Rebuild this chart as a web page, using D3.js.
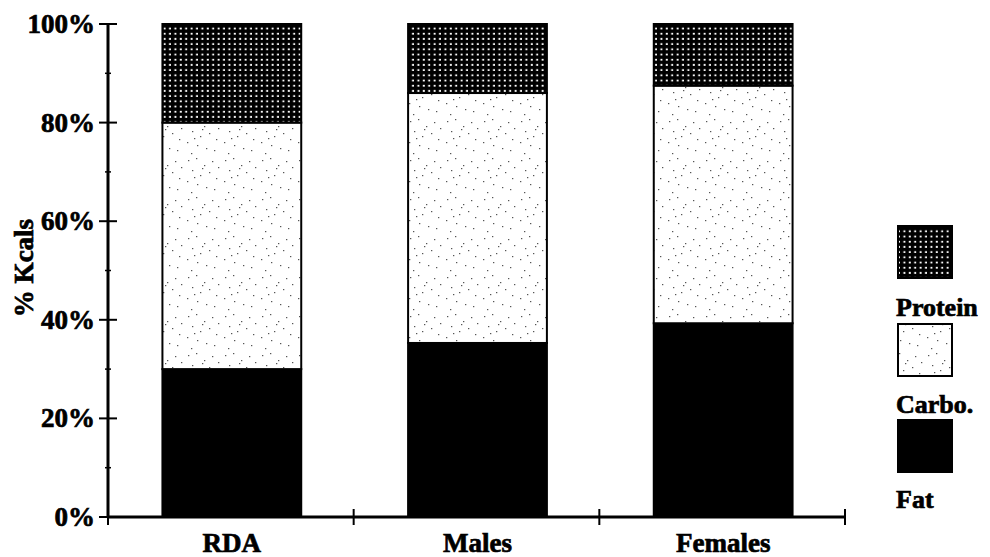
<!DOCTYPE html>
<html>
<head>
<meta charset="utf-8">
<script src="https://cdn.jsdelivr.net/npm/d3@7"></script>
<style>
  body { margin: 0; background: #fff; }
  text { stroke: #000; stroke-width: 0.7px; }
</style>
</head>
<body>
<svg></svg>
<script>
const width = 990;
const height = 557;
const font = "'Liberation Serif', 'DejaVu Serif', Times, serif";

// données (% des kcal)
const groups = ["RDA", "Males", "Females"];
const fat = [30, 35.3, 39.3];
const carbo = [50, 50.7, 48.2];
const protein = [20, 14, 12.5];
const seriesNames = ["Fat", "Carbo.", "Protein"];
const yTicks = [0, 20, 40, 60, 80, 100];

const svg = d3.select("svg")
  .attr("width", width)
  .attr("height", height)
  .attr("font-family", font)
  .attr("font-weight", "bold");

// motifs de remplissage
const defs = svg.append("defs");

const pDots = defs.append("pattern")
  .attr("id", "dots")
  .attr("patternUnits", "userSpaceOnUse")
  .attr("width", 5.4).attr("height", 5.2);
pDots.append("rect").attr("width", 5.4).attr("height", 5.2).attr("fill", "#000");
pDots.append("rect").attr("x", 1.6).attr("y", 1.6).attr("width", 2).attr("height", 1.8).attr("fill", "#fff");

// petites taches fixes pour le glucide (texture scannée)
const specks = [[3,4],[11,2],[19,9],[27,5],[7,14],[15,19],[24,16],[31,22],[2,25],[12,28],[21,31],[29,33],[6,36],[17,12],[33,11],[9,21]];
const pSpeck = defs.append("pattern")
  .attr("id", "speck")
  .attr("patternUnits", "userSpaceOnUse")
  .attr("width", 37).attr("height", 39);
pSpeck.append("rect").attr("width", 37).attr("height", 39).attr("fill", "#fff");
pSpeck.selectAll("rect.s")
  .data(specks)
  .join("rect")
  .attr("class", "s")
  .attr("x", d => d[0]).attr("y", d => d[1])
  .attr("width", 1.3).attr("height", 1.2)
  .attr("fill", "#555");

const fills = ["#000", "url(#speck)", "url(#dots)"];

// échelles
const x = d3.scaleBand()
  .domain(groups)
  .range([108, 845])
  .padding(0);

const y = d3.scaleLinear()
  .domain([0, 100])
  .range([517, 24]);

const barW = x.bandwidth() * 0.565;

// empilement
const table = groups.map((g, i) => ({ group: g, Fat: fat[i], "Carbo.": carbo[i], Protein: protein[i] }));
const stacked = d3.stack().keys(seriesNames)(table);

svg.append("g")
  .selectAll("g")
  .data(stacked)
  .join("g")
  .attr("fill", (d, i) => fills[i])
  .selectAll("rect")
  .data(d => d)
  .join("rect")
  .attr("x", d => x(d.data.group) + (x.bandwidth() - barW) / 2 + 1)
  .attr("y", d => y(d[1]))
  .attr("width", barW)
  .attr("height", d => y(d[0]) - y(d[1]))
  .attr("stroke", "#000")
  .attr("stroke-width", 2);

// axe Y
const yAxis = svg.append("g");
yAxis.append("line")
  .attr("x1", 108).attr("x2", 108)
  .attr("y1", y(100)).attr("y2", y(0))
  .attr("stroke", "#000").attr("stroke-width", 3);

yAxis.selectAll("line.minor")
  .data(d3.range(10, 100, 20))
  .join("line")
  .attr("class", "minor")
  .attr("x1", 105).attr("x2", 111)
  .attr("y1", d => y(d)).attr("y2", d => y(d))
  .attr("stroke", "#000").attr("stroke-width", 1.5);

yAxis.selectAll("line.major")
  .data(yTicks)
  .join("line")
  .attr("class", "major")
  .attr("x1", 99).attr("x2", 117)
  .attr("y1", d => y(d)).attr("y2", d => y(d))
  .attr("stroke", "#000").attr("stroke-width", 2);

yAxis.selectAll("text")
  .data(yTicks)
  .join("text")
  .attr("x", 95)
  .attr("y", d => y(d))
  .attr("dy", "0.33em")
  .attr("text-anchor", "end")
  .attr("font-size", 27)
  .text(d => d + "%");

// titre Y
svg.append("text")
  .attr("transform", "translate(33,268) rotate(-90)")
  .attr("text-anchor", "middle")
  .attr("font-size", 27)
  .text("% Kcals");

// axe X
const xAxis = svg.append("g");
xAxis.append("line")
  .attr("x1", 108).attr("x2", 845)
  .attr("y1", y(0)).attr("y2", y(0))
  .attr("stroke", "#000").attr("stroke-width", 3);

const xTicks = groups.map(g => x(g)).concat([x.range()[1]]);
xAxis.selectAll("line.tick")
  .data(xTicks)
  .join("line")
  .attr("class", "tick")
  .attr("x1", d => d).attr("x2", d => d)
  .attr("y1", y(0) - 8).attr("y2", y(0) + 8)
  .attr("stroke", "#000").attr("stroke-width", 2);

xAxis.selectAll("text")
  .data(groups)
  .join("text")
  .attr("x", d => x(d) + x.bandwidth() / 2 + 1)
  .attr("y", 552)
  .attr("text-anchor", "middle")
  .attr("font-size", 27)
  .text(d => d);

// légende
const legendItems = [
  { name: "Protein", fill: fills[2], top: 226, label: 316 },
  { name: "Carbo.", fill: fills[1], top: 324, label: 413 },
  { name: "Fat", fill: fills[0], top: 420, label: 508 }
];

const legend = svg.append("g");
legend.selectAll("rect")
  .data(legendItems)
  .join("rect")
  .attr("x", 898)
  .attr("y", d => d.top)
  .attr("width", 54)
  .attr("height", 52)
  .attr("fill", d => d.fill)
  .attr("stroke", "#000")
  .attr("stroke-width", 2);

legend.selectAll("text")
  .data(legendItems)
  .join("text")
  .attr("x", 896)
  .attr("y", d => d.label)
  .attr("font-size", 26)
  .text(d => d.name);
</script>
</body>
</html>
